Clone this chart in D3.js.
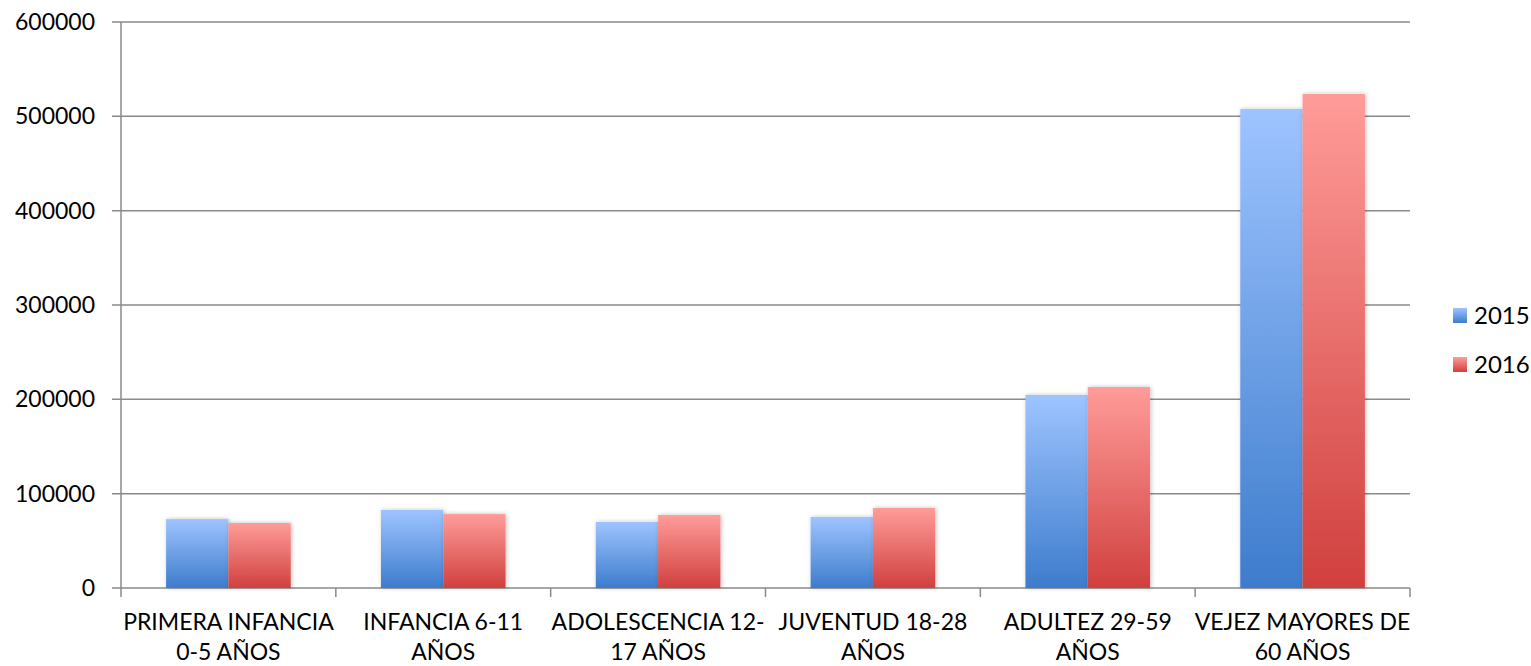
<!DOCTYPE html>
<html>
<head>
	<meta charset="utf-8">
	<title>Población por ciclo vital</title>
	<script src="https://cdn.jsdelivr.net/npm/d3@7"></script>
	<style>
		body { margin: 0; background: #fff; }
		text { font-family: Lato, "Open Sans", sans-serif; fill: #000; }
	</style>
</head>
<body>
<script>
	// datos
	const categories = [
		["PRIMERA INFANCIA", "0-5 AÑOS"],
		["INFANCIA 6-11", "AÑOS"],
		["ADOLESCENCIA 12-", "17 AÑOS"],
		["JUVENTUD 18-28", "AÑOS"],
		["ADULTEZ 29-59", "AÑOS"],
		["VEJEZ MAYORES DE", "60 AÑOS"]
	];
	const years = ["2015", "2016"];
	const values2015 = [73000, 82700, 70000, 75300, 204600, 507800];
	const values2016 = [68900, 78400, 77400, 84800, 213000, 523700];
	const yTicks = [0, 100000, 200000, 300000, 400000, 500000, 600000];

	const W = 1531, H = 666;
	const m = { left: 121, right: 121, top: 22, bottom: 78 };
	const plotW = W - m.left - m.right, plotH = H - m.top - m.bottom;

	const svg = d3.select("body").append("svg").attr("width", W).attr("height", H);

	const defs = svg.append("defs");
	const grads = [
		{ id: "g2015", top: "#9ec4ff", bottom: "#3d7ccc" },
		{ id: "g2016", top: "#ff9c99", bottom: "#d0403e" }
	];
	grads.forEach(g => {
		const lg = defs.append("linearGradient").attr("id", g.id)
			.attr("x1", 0).attr("y1", 0).attr("x2", 0).attr("y2", 1);
		lg.append("stop").attr("offset", "0%").attr("stop-color", g.top);
		lg.append("stop").attr("offset", "100%").attr("stop-color", g.bottom);
	});
	const shadow = defs.append("filter").attr("id", "shadow")
		.attr("x", "-20%").attr("y", "-5%").attr("width", "140%").attr("height", "110%");
	shadow.append("feDropShadow").attr("dx", 1).attr("dy", 0).attr("stdDeviation", 2)
		.attr("flood-color", "#000").attr("flood-opacity", 0.25);

	const g = svg.append("g").attr("transform", `translate(${m.left},${m.top})`);

	const x = d3.scaleBand().domain(d3.range(categories.length)).range([0, plotW]).paddingInner(0.42).paddingOuter(0.21);
	const xOuter = d3.scaleBand().domain(d3.range(categories.length)).range([0, plotW]);
	const xSub = d3.scaleBand().domain(years).range([0, x.bandwidth()]);
	const y = d3.scaleLinear().domain([0, 600000]).range([plotH, 0]);

	// líneas de división
	g.append("g").selectAll("line").data(yTicks).join("line")
		.attr("x1", -9).attr("x2", plotW)
		.attr("y1", d => y(d)).attr("y2", d => y(d))
		.attr("stroke", "#8a8a8a").attr("stroke-width", 1.5);

	// eje y
	g.append("line").attr("x1", 0).attr("x2", 0).attr("y1", 0).attr("y2", plotH)
		.attr("stroke", "#8a8a8a").attr("stroke-width", 1.5);
	g.append("g").selectAll("text").data(yTicks).join("text")
		.attr("x", -26).attr("y", d => y(d)).attr("dy", "0.35em")
		.attr("text-anchor", "end").style("font-size", "23px")
		.text(d => d);

	// marcas del eje x
	g.append("g").selectAll("line").data(d3.range(categories.length + 1)).join("line")
		.attr("x1", i => i * xOuter.bandwidth()).attr("x2", i => i * xOuter.bandwidth())
		.attr("y1", plotH).attr("y2", plotH + 9)
		.attr("stroke", "#8a8a8a").attr("stroke-width", 1.5);

	// barras
	const series = [values2015, values2016];
	const cat = g.append("g").selectAll("g").data(categories).join("g")
		.attr("transform", (d, i) => `translate(${x(i)},0)`);
	cat.selectAll("rect").data((d, i) => years.map((yr, k) => ({ yr, v: series[k][i] }))).join("rect")
		.attr("x", d => xSub(d.yr)).attr("width", xSub.bandwidth())
		.attr("y", d => y(d.v)).attr("height", d => plotH - y(d.v))
		.attr("fill", d => `url(#g${d.yr})`).attr("filter", "url(#shadow)");

	// etiquetas de categoría
	const lab = g.append("g").selectAll("text").data(categories).join("text")
		.attr("text-anchor", "middle").style("font-size", "23px")
		.attr("transform", (d, i) => `translate(${xOuter(i) + xOuter.bandwidth() / 2},${plotH + 42})`);
	lab.selectAll("tspan").data(d => d).join("tspan")
		.attr("x", 0).attr("dy", (d, i) => i === 0 ? 0 : 30).text(d => d);

	// leyenda
	const legend = svg.append("g").attr("transform", "translate(1453,308)");
	const li = legend.selectAll("g").data(years).join("g")
		.attr("transform", (d, i) => `translate(0,${i * 49})`);
	li.append("rect").attr("width", 14).attr("height", 15).attr("fill", d => `url(#g${d})`);
	li.append("text").attr("x", 21).attr("y", 8).attr("dy", "0.35em")
		.style("font-size", "24px").text(d => d);
</script>
</body>
</html>
